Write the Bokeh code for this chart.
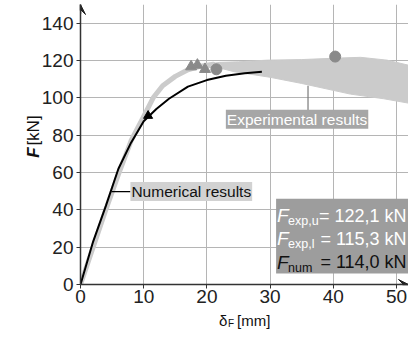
import math
from bokeh.plotting import figure
from bokeh.layouts import column
from bokeh.models import Label, Arrow, VeeHead, FixedTicker, Range1d
from bokeh.core.properties import value
from bokeh.embed import file_html
from bokeh.resources import INLINE

# ---- data ----
x_ticks = [0, 10, 20, 30, 40, 50]
y_ticks = [0, 20, 40, 60, 80, 100, 120, 140]

# experimental envelope: rising thick curve
exp_curve_x = [0, 2, 4, 6, 8, 10, 11.5, 13, 15, 17, 19, 21]
exp_curve_y = [0, 20, 40, 59, 77, 90, 100, 106.5, 111.5, 115, 117, 118]

# experimental scatter band (upper edge then lower edge)
band_upper_x = [19, 22, 25, 29.6, 35, 40, 44.3, 48.5, 52.5]
band_upper_y = [117.5, 119, 119.3, 120.2, 120.5, 121.2, 121.7, 120.2, 117]
band_lower_x = [52.5, 48, 42.7, 35, 30, 24.3, 22, 19]
band_lower_y = [96.8, 99.5, 102, 107.7, 111, 114, 116, 116.5]

# experimental failure points
exp_tri_x = [17.5, 18.5, 19.7]
exp_tri_y = [116.7, 117.6, 115.3]
exp_circ_x = [21.5, 40.3]
exp_circ_y = [115.3, 122.1]

# numerical curve
num_x = [0, 2, 4, 6, 8, 10, 12, 14, 17, 20, 23, 26, 28.7]
num_y = [0, 23, 42, 62, 76, 87.5, 94, 99.5, 106, 109.5, 111.8, 113.2, 114]
num_tri_x = [10.7]
num_tri_y = [90.4]

F_exp_u = 122.1
F_exp_l = 115.3
F_num = 114.0

x_title = ["δ", "F", "[mm]"]
y_title = ["F", "[kN]"]

FONT = "Liberation Sans"
TXT = "#111111"


def fmt(v):
    return ("= %.1f kN" % v).replace(".", ",")


# ---------------- main plot ----------------
p = figure(width=408, height=310, output_backend="svg", toolbar_location=None,
           title=None,
           x_range=Range1d(0, 51.9), y_range=Range1d(0, 150),
           min_border_left=79, min_border_right=0, min_border_top=4,
           min_border_bottom=26)
p.outline_line_color = None
p.background_fill_color = "white"
p.border_fill_color = "white"

for ax, ticks in ((p.xaxis, x_ticks), (p.yaxis, y_ticks)):
    ax.ticker = FixedTicker(ticks=ticks)
    ax.major_label_text_font = FONT
    ax.major_label_text_font_size = "19px"
    ax.major_label_text_color = "#222222"
    ax.axis_line_color = "#333333"
    ax.axis_line_width = 1.5
    ax.major_tick_line_color = "#333333"
    ax.major_tick_out = 4
    ax.major_tick_in = 0
    ax.minor_tick_out = 0
    ax.minor_tick_in = 0
p.xaxis.major_label_standoff = 1
p.yaxis.major_label_standoff = 3

p.xgrid.ticker = FixedTicker(ticks=x_ticks)
p.ygrid.ticker = FixedTicker(ticks=y_ticks)
p.grid.grid_line_color = "#b5b5b5"
p.grid.grid_line_width = 1

# experimental band and curve
p.patch(band_upper_x + band_lower_x, band_upper_y + band_lower_y,
        fill_color="#cbcbcb", line_color="#cbcbcb", line_width=1)
p.line(exp_curve_x, exp_curve_y, line_color="#cbcbcb", line_width=5,
       line_cap="round", line_join="round")

# numerical curve
p.line(num_x, num_y, line_color="black", line_width=2)
p.scatter(num_tri_x, num_tri_y, marker="triangle", size=9, color="black")

# experimental points
p.scatter(exp_tri_x, exp_tri_y, marker="triangle", size=11, color="#8a8a8a")
p.scatter(exp_circ_x, exp_circ_y, marker="circle", size=11, color="#8a8a8a")

# leader lines
p.segment(x0=[4.9], y0=[49.8], x1=[7.9], y1=[49.8], line_color="black", line_width=1.2)
p.segment(x0=[36.0], y0=[106.5], x1=[36.0], y1=[93.5], line_color="#7a7a7a", line_width=1.2)

# labels for the curves
p.add_layout(Label(x=7.9, y=49.8, text="Numerical results", text_font=FONT,
                   text_font_size="15.5px", text_color=TXT,
                   text_baseline="middle", text_align="left",
                   background_fill_color="#d2d2d2", padding=1))
p.add_layout(Label(x=23.0, y=88.5, text="Experimental results", text_font=FONT,
                   text_font_size="15.5px", text_color="white",
                   text_baseline="middle", text_align="left",
                   background_fill_color="#a6a6a6", padding=1))

# result box
p.quad(left=[30.95], right=[52.5], bottom=[5.9], top=[46.0],
       fill_color="#9d9d9d", line_color=None)
rows = [(36.9, "exp,u", F_exp_u, "white"),
        (24.6, "exp,l", F_exp_l, "white"),
        (11.8, "num", F_num, TXT)]
for yc, sub, val, col in rows:
    p.add_layout(Label(x=31.1, y=yc, text="F", text_font=FONT, text_font_size="19px",
                       text_font_style="italic", text_color=col,
                       text_baseline="middle", text_align="left"))
    p.add_layout(Label(x=32.85, y=yc - 2.8, text=sub, text_font=FONT,
                       text_font_size="12.5px", text_color=col,
                       text_baseline="middle", text_align="left"))
    p.add_layout(Label(x=51.6, y=yc, text=fmt(val), text_font=FONT,
                       text_font_size="18px", text_color=col,
                       text_baseline="middle", text_align="right"))

# axis arrowheads
p.add_layout(Arrow(end=VeeHead(size=10, fill_color="#222222", line_color="#222222"),
                   x_start=50.5, y_start=0, x_end=51.9, y_end=0,
                   line_color="#333333", line_width=1.5))
p.add_layout(Arrow(end=VeeHead(size=10, fill_color="#222222", line_color="#222222"),
                   x_start=0, y_start=145, x_end=0, y_end=150,
                   line_color="#333333", line_width=1.5))

# y-axis title: two pieces in the left side panel (placed by data coordinates)
p.add_layout(Label(x=-7.5, y=70.7, text=y_title[0], text_font=FONT, text_font_size="17px",
                   text_font_style="bold italic", text_color=TXT, angle=math.pi / 2,
                   text_align="center", text_baseline="alphabetic"), "left")
p.add_layout(Label(x=-7.5, y=82.5, text=y_title[1], text_font=FONT, text_font_size="17px",
                   text_color=TXT, angle=math.pi / 2,
                   text_align="center", text_baseline="alphabetic"), "left")

# ---------------- x-axis title strip (frame aligned with the main plot) ----------------
bottom = figure(width=408, height=20, output_backend="svg", toolbar_location=None,
                title=None,
                x_range=p.x_range, y_range=Range1d(0, 20),
                x_axis_type=None, y_axis_type=None, min_border=0,
                min_border_left=79, min_border_right=0,
                min_border_top=0, min_border_bottom=0)
bottom.outline_line_color = None
bottom.background_fill_color = "white"
bottom.border_fill_color = "white"
bottom.text(x=[(218 - 79) / 6.34], y=[10.0], text=[x_title[0]], text_font=value(FONT),
            text_font_size="15px", text_color=TXT, text_align="left",
            text_baseline="middle")
bottom.text(x=[(227 - 79) / 6.34], y=[7.5], text=[x_title[1]], text_font=value(FONT),
            text_font_size="10px", text_color=TXT, text_align="left",
            text_baseline="middle")
bottom.text(x=[(236 - 79) / 6.34], y=[10.0], text=[x_title[2]], text_font=value(FONT),
            text_font_size="15px", text_color=TXT, text_align="left",
            text_baseline="middle")

layout = column(p, bottom, spacing=0)

open("out.html", "w").write(file_html(layout, INLINE))
